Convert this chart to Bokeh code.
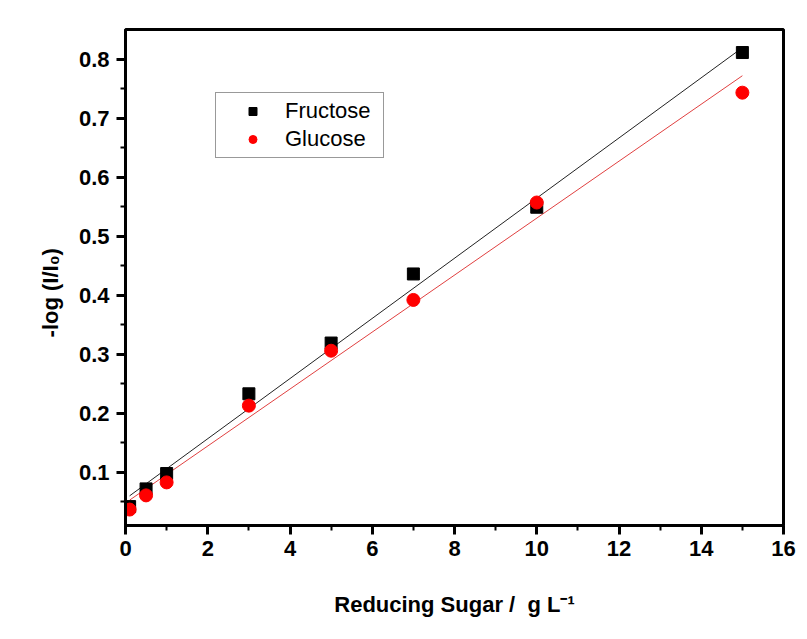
import numpy as np
from bokeh.plotting import figure
from bokeh.models import Range1d, SingleIntervalTicker, Legend, LegendItem
from bokeh.embed import file_html
from bokeh.resources import INLINE

# Reducing sugar concentration (g/L) and measured absorbance -log(I/I0)
conc = [0.1, 0.5, 1, 3, 5, 7, 10, 15]
fructose = [0.042, 0.072, 0.098, 0.233, 0.319, 0.436, 0.549, 0.811]
glucose = [0.037, 0.061, 0.083, 0.213, 0.306, 0.392, 0.557, 0.743]

x_limits = (0, 16)
y_limits = (0.01, 0.85)

x_title = "Reducing Sugar /\u00a0 g L\u207b\u00b9"
y_title = "-log (I/I\u2080)" + "\u00a0" * 5

FONT = "Liberation Sans"

p = figure(width=807, height=639,
           x_range=Range1d(*x_limits), y_range=Range1d(*y_limits),
           output_backend="svg", toolbar_location=None,
           min_border_left=125, min_border_right=24,
           min_border_top=29, min_border_bottom=114)
p.background_fill_color = "white"
p.border_fill_color = "white"
p.xgrid.visible = False
p.ygrid.visible = False
p.outline_line_color = "black"
p.outline_line_width = 3

p.xaxis.ticker = SingleIntervalTicker(interval=2, num_minor_ticks=2)
p.yaxis.ticker = SingleIntervalTicker(interval=0.1, num_minor_ticks=2)
for ax in (p.xaxis, p.yaxis):
    ax.axis_line_width = 3
    ax.major_tick_line_width = 3
    ax.minor_tick_line_width = 2
    ax.major_tick_in = 0
    ax.major_tick_out = 9
    ax.minor_tick_in = 0
    ax.minor_tick_out = 5
    ax.major_label_text_font = FONT
    ax.major_label_text_font_style = "bold"
    ax.major_label_text_font_size = "22px"
    ax.major_label_text_color = "black"
    ax.axis_label_text_font = FONT
    ax.axis_label_text_font_style = "bold"
    ax.axis_label_text_font_size = "22px"
    ax.axis_label_text_color = "black"
p.xaxis.major_label_standoff = 6
p.yaxis.major_label_standoff = 7
p.xaxis.axis_label = x_title
p.yaxis.axis_label = y_title
p.xaxis.axis_label_standoff = 33
p.yaxis.axis_label_standoff = 13

# Linear least-squares fits for each sugar
xfit = np.array([conc[0], conc[-1]])
kf, bf = np.polyfit(conc, fructose, 1)
kg, bg = np.polyfit(conc, glucose, 1)
p.line(xfit, kf * xfit + bf, line_color="#222222", line_width=1)
p.line(xfit, kg * xfit + bg, line_color="#e04040", line_width=1)

r_fru = p.scatter(conc, fructose, marker="square", size=12,
                  fill_color="black", line_color="black")
r_glu = p.scatter(conc, glucose, marker="circle", size=13,
                  fill_color="#ff0000", line_color="#ff0000")

legend = Legend(items=[LegendItem(label="Fructose", renderers=[r_fru]),
                       LegendItem(label="Glucose", renderers=[r_glu])],
                location=(90, 367))
legend.label_text_font = FONT
legend.label_text_font_size = "22px"
legend.label_text_color = "black"
legend.padding = 5
legend.glyph_width = 63
legend.glyph_height = 20
legend.label_height = 20
legend.label_width = 93
legend.label_standoff = 1
legend.spacing = 2
legend.border_line_color = "#333333"
legend.border_line_width = 1
legend.background_fill_color = "white"
legend.background_fill_alpha = 1
p.add_layout(legend)

open("out.html", "w").write(file_html(p, INLINE))
